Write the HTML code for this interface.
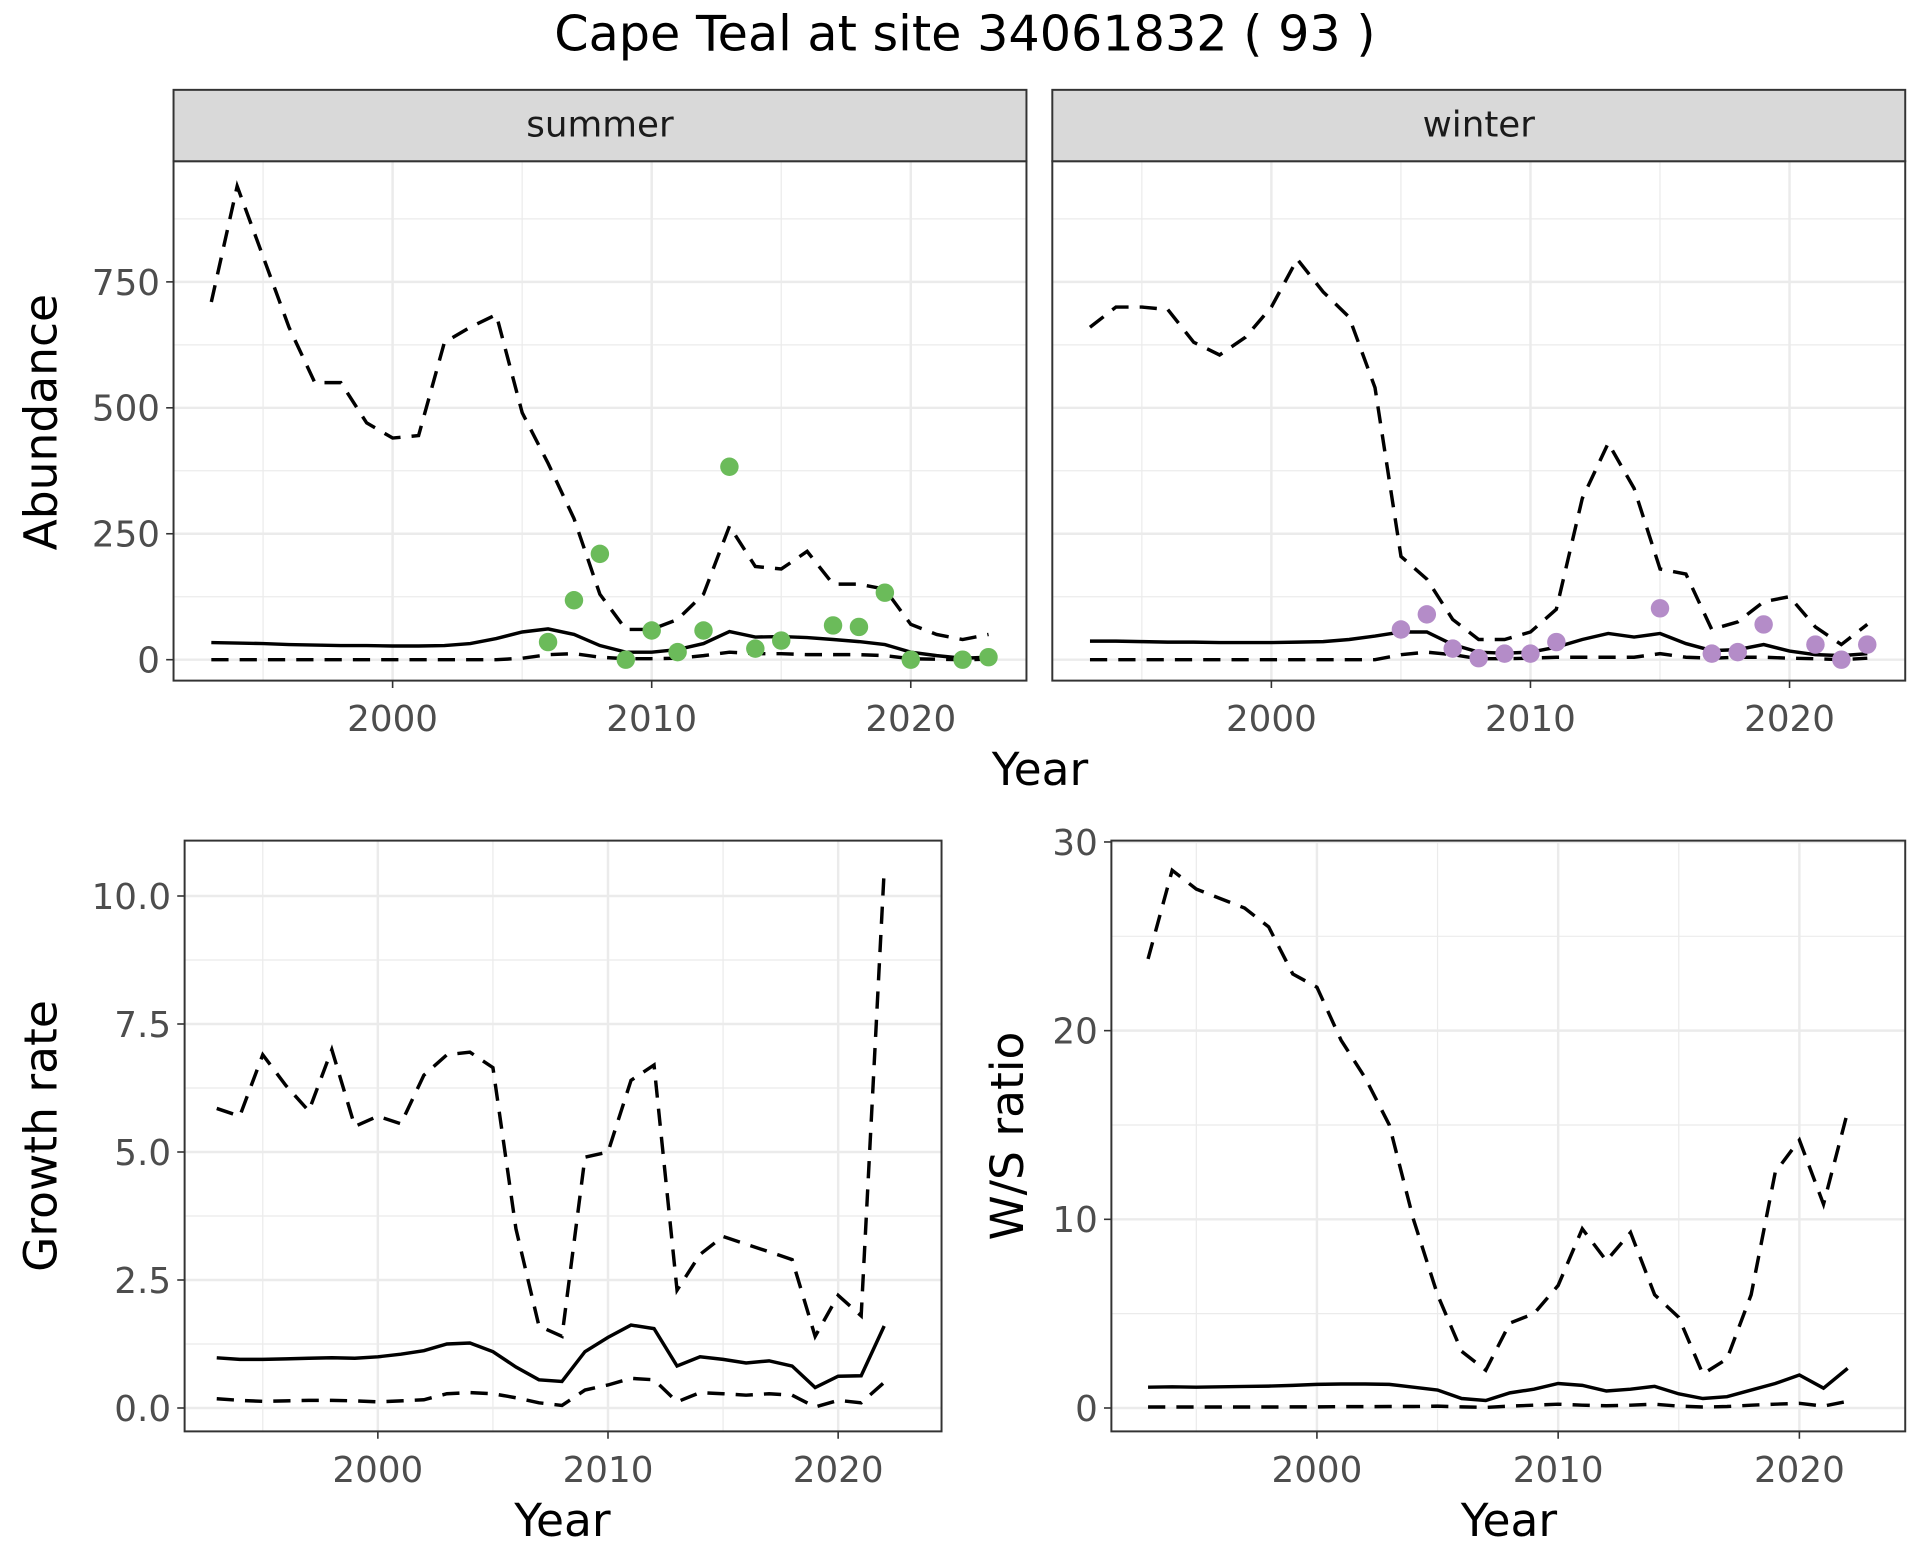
<!DOCTYPE html>
<html><head><meta charset="utf-8"><style>
html,body{margin:0;padding:0;background:#fff}
svg{display:block}
text{font-family:"DejaVu Sans","Liberation Sans",sans-serif}
</style></head><body>
<svg id="chart" xmlns="http://www.w3.org/2000/svg" width="1920" height="1560" viewBox="0 0 1560 1267.5">
<rect width="1560" height="1268" fill="#fff"/>
<text x="784" y="41" font-size="40" text-anchor="middle" fill="#000">Cape Teal at site 34061832 ( 93 )</text>
</svg>
<script>
const yearsA = [1993,1994,1995,1996,1997,1998,1999,2000,2001,2002,2003,2004,2005,2006,2007,2008,2009,2010,2011,2012,2013,2014,2015,2016,2017,2018,2019,2020,2021,2022,2023];
const sumUpper = [710,940,800,660,550,550,470,440,445,630,660,685,490,390,280,130,60,60,80,130,265,185,180,215,150,150,140,70,50,40,50];
const sumMean = [34,33,32,30,29,28,28,27,27,28,32,42,55,61,50,28,15,15,20,32,56,45,46,44,40,36,30,15,8,3,5];
const sumLower = [0,0,0,0,0,0,0,0,0,0,0,0,3,10,12,5,2,2,3,8,15,12,12,10,10,10,8,2,1,0,1];
const sumPtYears = [2006,2007,2008,2009,2010,2011,2012,2013,2014,2015,2017,2018,2019,2020,2022,2023];
const sumPtVals = [35,118,210,0,58,15,58,383,22,38,68,65,133,0,0,5];
const winUpper = [660,700,700,695,630,605,640,700,795,730,680,540,205,160,80,40,40,55,100,320,430,340,180,170,60,75,115,125,65,30,70];
const winMean = [37,37,36,35,35,34,34,34,35,36,40,47,55,55,30,15,13,15,25,40,52,45,52,32,18,20,30,17,10,8,12];
const winLower = [0,0,0,0,0,0,0,0,0,0,0,0,10,15,10,2,2,3,5,5,5,5,12,5,3,5,5,3,2,0,3];
const winPtYears = [2005,2006,2007,2008,2009,2010,2011,2015,2017,2018,2019,2021,2022,2023];
const winPtVals = [60,90,22,3,12,12,35,102,12,15,70,30,0,30];
const yearsB = [1993,1994,1995,1996,1997,1998,1999,2000,2001,2002,2003,2004,2005,2006,2007,2008,2009,2010,2011,2012,2013,2014,2015,2016,2017,2018,2019,2020,2021,2022];
const grUpper = [5.85,5.7,6.9,6.3,5.8,7.0,5.5,5.7,5.55,6.5,6.9,6.95,6.65,3.5,1.6,1.4,4.9,5.0,6.4,6.7,2.3,3.0,3.35,3.2,3.05,2.9,1.4,2.2,1.8,10.5];
const grMean = [0.98,0.95,0.95,0.96,0.97,0.98,0.97,1.0,1.05,1.12,1.25,1.27,1.1,0.8,0.55,0.52,1.1,1.38,1.62,1.55,0.82,1.0,0.95,0.88,0.92,0.82,0.4,0.62,0.63,1.6];
const grLower = [0.18,0.15,0.13,0.14,0.15,0.15,0.14,0.12,0.14,0.16,0.28,0.3,0.28,0.2,0.1,0.05,0.35,0.45,0.58,0.55,0.12,0.3,0.28,0.25,0.28,0.25,0.02,0.15,0.1,0.5];
const wsUpper = [23.8,28.5,27.5,27,26.5,25.5,23,22.3,19.5,17.5,15,10,6,3,2,4.5,5,6.5,9.5,7.8,9.3,6,4.8,1.8,2.6,6,12.5,14.2,10.8,15.7];
const wsMean = [1.1,1.12,1.1,1.12,1.14,1.16,1.2,1.25,1.27,1.27,1.25,1.1,0.95,0.5,0.4,0.8,1.0,1.3,1.2,0.9,1.0,1.15,0.75,0.5,0.6,0.95,1.3,1.75,1.05,2.1];
const wsLower = [0.05,0.05,0.05,0.05,0.05,0.05,0.06,0.06,0.07,0.07,0.08,0.08,0.1,0.06,0.03,0.1,0.15,0.2,0.15,0.12,0.15,0.2,0.1,0.05,0.08,0.15,0.2,0.25,0.1,0.35];
const xTicks = [2000,2010,2020];
const abTicks = [0,250,500,750];
const grTicks = [0,2.5,5,7.5,10];
const grTickLabels = ["0.0","2.5","5.0","7.5","10.0"];
const wsTicks = [0,10,20,30];

const svg = document.getElementById('chart');
const NS = 'http://www.w3.org/2000/svg';
function mk(tag, attrs, parent){const e=document.createElementNS(NS,tag);for(const k in attrs)e.setAttribute(k,attrs[k]);(parent||svg).appendChild(e);return e;}

function panel(name, x0,x1,y0,y1, xs, ys, yTicks, yLabels, minorY, showY){
  const g = mk('g',{});
  
  
  mk('rect',{x:x0,y:y0,width:x1-x0,height:y1-y0,fill:'#fff'},g);
  [1995,2005,2015].forEach(v=>{const l=mk('line',{x1:xs(v),x2:xs(v),y1:y0,y2:y1,stroke:'#EBEBEB','stroke-width':1},g);
    
    });
  minorY.forEach(v=>{const l=mk('line',{x1:x0,x2:x1,y1:ys(v),y2:ys(v),stroke:'#EBEBEB','stroke-width':1},g);
    
    });
  xTicks.forEach(v=>{const l=mk('line',{x1:xs(v),x2:xs(v),y1:y0,y2:y1,stroke:'#EBEBEB','stroke-width':2},g);
    
    
    mk('line',{x1:xs(v),x2:xs(v),y1:y1,y2:y1+6,stroke:'#333','stroke-width':1.3},g);
    const t=mk('text',{x:xs(v),y:y1+41,'font-size':29,'text-anchor':'middle',fill:'#4D4D4D'},g);t.textContent=v;
    
    });
  yTicks.forEach((v,i)=>{const l=mk('line',{x1:x0,x2:x1,y1:ys(v),y2:ys(v),stroke:'#EBEBEB','stroke-width':2},g);
    
    
    if(showY){mk('line',{x1:x0-6,x2:x0,y1:ys(v),y2:ys(v),stroke:'#333','stroke-width':1.3},g);
    const t=mk('text',{x:x0-11,y:ys(v)+10.5,'font-size':29,'text-anchor':'end',fill:'#4D4D4D'},g);t.textContent=yLabels[i];
    
    }});
  return g;
}
function line(g, xs, ys, xv, yv, dashed, name){
  const d = xv.map((x,i)=>(i?'L':'M')+xs(x).toFixed(1)+','+ys(yv[i]).toFixed(1)).join('');
  const p = mk('path',{d:d,fill:'none',stroke:'#000','stroke-width':2.8,'stroke-dasharray':dashed?'14,9':'none'},g);
  
  
}
function points(g, xs, ys, xv, yv, col, name){
  xv.forEach((x,i)=>{const c=mk('circle',{cx:xs(x),cy:ys(yv[i]),r:7.5,fill:col},g);
    
    });
}
function border(g,x0,x1,y0,y1){mk('rect',{x:x0,y:y0,width:x1-x0,height:y1-y0,fill:'none',stroke:'#333','stroke-width':1.6},g);}
function strip(label,x0,x1,y0,y1){
  const r=mk('rect',{x:x0,y:y0,width:x1-x0,height:y1-y0,fill:'#D9D9D9',stroke:'#333','stroke-width':1.6});
  
  
  const t=mk('text',{x:(x0+x1)/2,y:(y0+y1)/2+9,'font-size':29,'text-anchor':'middle',fill:'#1A1A1A'});t.textContent=label;
  
  
}
function title(txt,x,y,rot,name){
  const t=mk('text',{x:x,y:y,'font-size':37,'text-anchor':'middle',fill:'#000',transform:rot?`rotate(-90 ${x} ${y})`:''});t.textContent=txt;
  
  
}

const abY = v => 536 - v*0.4093;
const abMinor = [125,375,625,875];
const sx = v => 319 + (v-2000)*21.05;
const wx = v => 1033 + (v-2000)*21.05;
let g = panel('summer-panel',141,834,131,553,sx,abY,abTicks,abTicks,abMinor,true);
line(g,sx,abY,yearsA,sumUpper,true,'summer-upper-line');
line(g,sx,abY,yearsA,sumMean,false,'summer-mean-line');
line(g,sx,abY,yearsA,sumLower,true,'summer-lower-line');
points(g,sx,abY,sumPtYears,sumPtVals,'#6BBB5A','summer-count-point');
border(g,141,834,131,553);
strip('summer',141,834,73,131);
g = panel('winter-panel',855,1548,131,553,wx,abY,abTicks,abTicks,abMinor,false);
line(g,wx,abY,yearsA,winUpper,true,'winter-upper-line');
line(g,wx,abY,yearsA,winMean,false,'winter-mean-line');
line(g,wx,abY,yearsA,winLower,true,'winter-lower-line');
points(g,wx,abY,winPtYears,winPtVals,'#B48CC8','winter-count-point');
border(g,855,1548,131,553);
strip('winter',855,1548,73,131);
title('Abundance',46,343,true,'abundance-y-title');
title('Year',845,638,false,'abundance-x-title');

const gx = v => 307 + (v-2000)*18.7;
const gy = v => 1144 - v*41.6;
g = panel('growth-rate-panel',150,765,683,1163,gx,gy,grTicks,grTickLabels,[1.25,3.75,6.25,8.75],true);
line(g,gx,gy,yearsB,grUpper,true,'growth-upper-line');
line(g,gx,gy,yearsB,grMean,false,'growth-mean-line');
line(g,gx,gy,yearsB,grLower,true,'growth-lower-line');
border(g,150,765,683,1163);
title('Growth rate',46,923,true,'growth-y-title');
title('Year',457,1248,false,'growth-x-title');

const rx = v => 1070 + (v-2000)*19.6;
const ry = v => 1144 - v*15.33;
g = panel('ws-ratio-panel',903,1548,683,1163,rx,ry,wsTicks,wsTicks,[5,15,25],true);
line(g,rx,ry,yearsB,wsUpper,true,'ws-upper-line');
line(g,rx,ry,yearsB,wsMean,false,'ws-mean-line');
line(g,rx,ry,yearsB,wsLower,true,'ws-lower-line');
border(g,903,1548,683,1163);
title('W/S ratio',831,923,true,'ws-y-title');
title('Year',1226,1248,false,'ws-x-title');
</script>
</body></html>
